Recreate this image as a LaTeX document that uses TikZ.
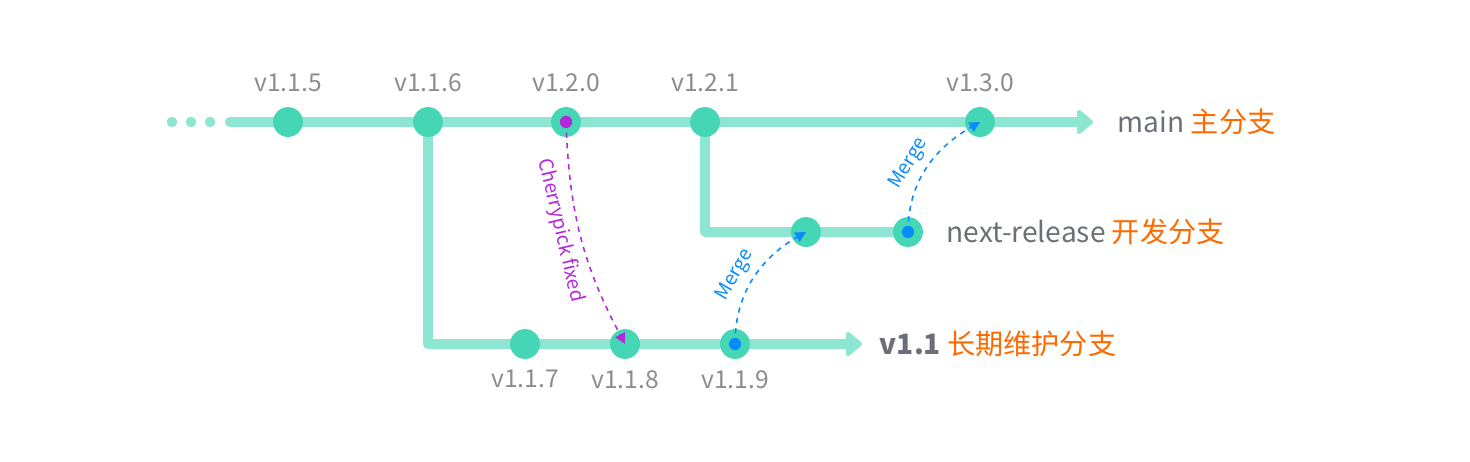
\documentclass[tikz,border=0pt]{standalone}
\usepackage{fontspec}
\setmainfont{Noto Sans CJK SC}
\usetikzlibrary{positioning,arrows.meta}
\definecolor{linegreen}{HTML}{8DE6D2}
\definecolor{commitgreen}{HTML}{45D6B6}
\definecolor{vergray}{HTML}{8C8C8C}
\definecolor{labelgray}{HTML}{6B6F77}
\definecolor{zhorange}{HTML}{FF6A00}
\definecolor{pickpurple}{HTML}{B428DC}
\definecolor{mergeblue}{HTML}{0A8CFA}
\tikzset{
  branch/.style={draw=linegreen, line width=5.7pt, line cap=round, line join=round},
  branchend/.style={branch, -{Triangle[length=10pt, width=16pt, round]}},
  commit/.style={circle, fill=commitgreen, minimum size=17pt, inner sep=0pt},
  dot/.style={circle, fill=linegreen, minimum size=6pt, inner sep=0pt},
  ver/.style={text=vergray, font=\fontsize{14}{16}\selectfont, inner sep=0pt},
  brlabel/.style={text=labelgray, font=\fontsize{16}{18}\selectfont, inner sep=0pt, anchor=west},
  pick/.style={draw=pickpurple, line width=0.9pt, dashed, -{Triangle[length=6pt, width=6pt]}},
  merge/.style={draw=mergeblue, line width=0.9pt, dashed, -{Triangle[length=6pt, width=6pt]}},
  tail/.style={circle, minimum size=7pt, inner sep=0pt},
  pathtext/.style={sloped, font=\fontsize{11}{13}\selectfont, inner sep=4pt},
}
\begin{document}
\begin{tikzpicture}[x=0.02cm, y=-0.02cm]
  \useasboundingbox (0,0) rectangle (1470,462);

  % branches
  \coordinate (mstart) at (230,122);
  \coordinate (mend) at (1093,122);
  \coordinate (lend) at (862,344);
  \draw[branchend] (mstart) -- (mend);
  \draw[branchend] (428,122) |- (lend);
  \draw[branch] (705,122) |- (908,232);

  % dots
  \node[dot] (d1) at (172,122) {};
  \node[dot] (d2) at (191,122) {};
  \node[dot] (d3) at (210,122) {};

  % commits on main
  \node[commit] (c115) at (288,122) {};
  \node[commit] (c116) at (428,122) {};
  \node[commit] (c120) at (566,122) {};
  \node[commit] (c121) at (705,122) {};
  \node[commit] (c130) at (980,122) {};
  % commits on next-release
  \node[commit] (n1) at (806,232) {};
  \node[commit] (n2) at (908,232) {};
  % commits on v1.1
  \node[commit] (c117) at (525,344) {};
  \node[commit] (c118) at (625,344) {};
  \node[commit] (c119) at (735,344) {};

  % version labels
  \node[ver, above=8pt of c115] {v1.1.5};
  \node[ver, above=8pt of c116] {v1.1.6};
  \node[ver, above=8pt of c120] {v1.2.0};
  \node[ver, above=8pt of c121] {v1.2.1};
  \node[ver, above=8pt of c130] {v1.3.0};
  \node[ver, below=6pt of c117] {v1.1.7};
  \node[ver, below=6pt of c118] {v1.1.8};
  \node[ver, below=6pt of c119] {v1.1.9};

  % branch names
  \node[brlabel, right=14pt of mend] {main \textcolor{zhorange}{主分支}};
  \node[brlabel, right=13pt of n2] {next-release \textcolor{zhorange}{开发分支}};
  \node[brlabel, right=10pt of lend] {\bfseries v1.1 \textcolor{zhorange}{\mdseries 长期维护分支}};

  % cherrypick and merges
  \node[tail, fill=pickpurple] (p0) at (c120) {};
  \node[tail, fill=mergeblue] (m0) at (c119) {};
  \node[tail, fill=mergeblue] (m1) at (n2) {};
  \draw[pick] (c120.center) to[out=-88, in=118]
    node[pathtext, below, pos=0.45, text=pickpurple] {Cherrypick fixed} (c118.center);
  \draw[merge] (c119.center) to[out=90, in=-150]
    node[pathtext, above, pos=0.45, text=mergeblue] {Merge} (n1.center);
  \draw[merge] (n2.center) to[out=90, in=-150]
    node[pathtext, above, pos=0.45, text=mergeblue] {Merge} (c130.center);
\end{tikzpicture}
\end{document}
